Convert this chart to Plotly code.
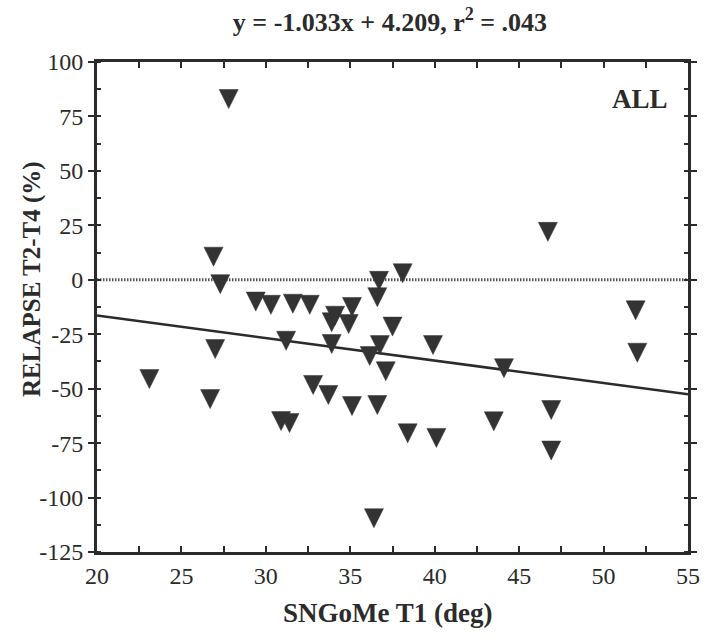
import numpy as np
import plotly.graph_objects as go

# SNGoMe at T1 (deg) and relapse T2-T4 (%) for all cases
sngome_t1 = [27.8, 26.9, 27.3, 36.7, 38.1, 36.6, 46.7, 29.4, 30.3, 31.6,
             32.6, 35.1, 34.1, 33.9, 34.9, 37.5, 31.2, 33.9, 36.75, 36.15,
             37.1, 27.0, 23.1, 26.7, 32.8, 33.7, 35.1, 36.6, 30.9, 31.4,
             36.4, 39.9, 44.1, 38.4, 40.1, 43.5, 46.9, 46.9, 51.9, 52.0]
relapse = [83.0, 10.6, -2.0, -0.5, 3.0, -8.0, 22.0, -10.0, -11.5, -11.0,
           -11.5, -12.5, -16.5, -19.5, -20.3, -21.5, -28.0, -29.5, -30.0, -35.0,
           -42.0, -31.8, -45.6, -54.8, -48.3, -52.9, -58.0, -57.5, -64.9, -65.8,
           -109.5, -30.0, -40.6, -70.5, -72.6, -65.0, -59.8, -78.4, -14.0, -33.5]

# least-squares fit reported in the title
fit_slope = -1.033
fit_intercept = 4.209
fit_r2 = 0.043

x_range = [20, 55]
y_range = [-125, 100]
x_ticks = [20, 25, 30, 35, 40, 45, 50, 55]
y_ticks = [100, 75, 50, 25, 0, -25, -50, -75, -100, -125]

W, H = 711, 643
M = dict(l=97, r=23, t=62, b=91)
plot_w = W - M["l"] - M["r"]
plot_h = H - M["t"] - M["b"]

INK = "#2b2b2b"
SERIF = "Liberation Serif, DejaVu Serif, serif"

# triangle symbol is anchored at its tip; shift its axis by half the glyph height
marker_size = 19
shift = (marker_size / 2) * (y_range[1] - y_range[0]) / plot_h

fig = go.Figure()

fig.add_trace(go.Scatter(
    x=x_range, y=[0, 0], mode="lines",
    line=dict(color="#555555", width=3, dash="1.5px,1.5px"),
    hoverinfo="skip", showlegend=False,
))

fit_x = np.array(x_range, dtype=float)
fig.add_trace(go.Scatter(
    x=fit_x, y=fit_slope * fit_x + fit_intercept, mode="lines",
    line=dict(color=INK, width=2.5),
    showlegend=False,
))

fig.add_trace(go.Scatter(
    x=sngome_t1, y=relapse, mode="markers", yaxis="y2",
    marker=dict(symbol="arrow-down", size=marker_size, color="#333333",
                line=dict(color="#333333", width=0.5)),
    showlegend=False,
))

axis_common = dict(
    showline=True, linecolor=INK, linewidth=3, mirror="allticks",
    showgrid=False, zeroline=False,
    tickcolor=INK, tickwidth=2, ticklen=6,
    tickfont=dict(family=SERIF, size=24, color=INK),
)


# pixel position -> plot-area paper fraction
def px_x(p):
    return (p - M["l"]) / plot_w


def px_y(p):
    return (H - M["b"] - p) / plot_h


fig.update_layout(
    width=W, height=H, margin=M,
    paper_bgcolor="white", plot_bgcolor="white",
    title=dict(
        text=f"y = {fit_slope:.3f}x + {fit_intercept:.3f}, r<sup>2</sup> = {fit_r2:.3f}".replace("0.", "."),
        x=390 / W, xanchor="center",
        y=1 - 22 / H, yanchor="middle",
        font=dict(family=SERIF, size=26, color=INK, weight="bold"),
    ),
    xaxis=dict(
        **axis_common, range=x_range, ticks="inside",
        tickvals=x_ticks, ticktext=[str(v) for v in x_ticks],
        minor=dict(dtick=2.5, tick0=20, ticks="inside", ticklen=5, tickcolor=INK, tickwidth=2),
    ),
    yaxis=dict(
        **axis_common, range=y_range, ticks="outside",
        tickvals=y_ticks, ticktext=[str(v) for v in y_ticks],
        minor=dict(dtick=12.5, tick0=-125, ticks="inside", ticklen=4, tickcolor=INK, tickwidth=2),
    ),
    yaxis2=dict(
        overlaying="y", range=[y_range[0] + shift, y_range[1] + shift],
        visible=False, showgrid=False, zeroline=False,
    ),
    annotations=[
        dict(text="<b>ALL</b>", xref="paper", yref="paper",
             x=px_x(670), y=px_y(99), xanchor="right", yanchor="middle",
             showarrow=False, font=dict(family=SERIF, size=27, color=INK)),
        dict(text="<b>SNGoMe T1 (deg)</b>", xref="paper", yref="paper",
             x=px_x(388), y=px_y(613), xanchor="center", yanchor="middle",
             showarrow=False, font=dict(family=SERIF, size=27, color=INK)),
        dict(text="<b>RELAPSE T2-T4 (%)</b>", xref="paper", yref="paper",
             x=px_x(32), y=px_y(279), xanchor="center", yanchor="middle",
             textangle=-90, showarrow=False,
             font=dict(family=SERIF, size=25, color=INK)),
    ],
)

fig.write_html("out.html")
